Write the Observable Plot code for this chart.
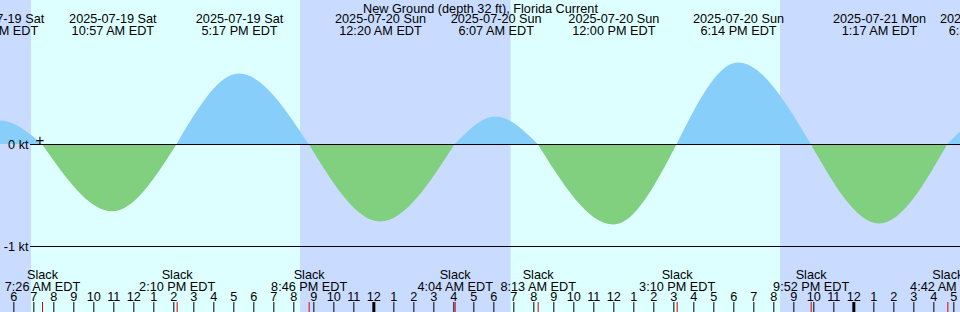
<!DOCTYPE html>
<html><head><meta charset="utf-8">
<script src="https://cdn.jsdelivr.net/npm/d3@7"></script>
<script src="https://cdn.jsdelivr.net/npm/@observablehq/plot@0.6"></script>
<style>html,body{margin:0;padding:0;overflow:hidden;background:#fff} svg{display:block}</style>
</head><body><div id="chart"></div>
<script>
const title = "New Ground (depth 32 ft), Florida Current";
const startTime = "2025-07-19 05:20";
const endTime = "2025-07-21 05:20";
const nightStarts = ["2025-07-19 05:20", "2025-07-19 20:20", "2025-07-20 20:20"];
const nightEnds = ["2025-07-19 06:53", "2025-07-20 06:52", "2025-07-21 05:20"];
const peakTimes = ["2025-07-19 05:20", "2025-07-19 10:57", "2025-07-19 17:17", "2025-07-20 00:20", "2025-07-20 06:07", "2025-07-20 12:00", "2025-07-20 18:14", "2025-07-21 01:17", "2025-07-21 06:38"];
const peakValues = [0.23, -0.66, 0.69, -0.76, 0.27, -0.79, 0.80, -0.78, 0.26];
const slackTimes = ["2025-07-19 07:26", "2025-07-19 14:10", "2025-07-19 20:46", "2025-07-20 04:04", "2025-07-20 08:13", "2025-07-20 15:10", "2025-07-20 21:52", "2025-07-21 04:42"];
const edgeSlackTimes = ["2025-07-19 03:14", "2025-07-21 08:45"];
const levelValues = [0, -1];
const levelLabels = ["0 kt", "-1 kt"];
const nowTime = "2025-07-19 07:18";

const dayColor = "#ddffff";
const nightColor = "#c9dcff";
const floodColor = "#87cefa";
const ebbColor = "#80d07f";

const parse = d3.utcParse("%Y-%m-%d %H:%M");
const fmtDate = d3.utcFormat("%Y-%m-%d %a");
const fmtTime = d => d3.utcFormat("%-I:%M %p")(d) + " EDT";
const fmtHour = d3.utcFormat("%-I");

const nights = nightStarts.map((s, i) => ({start: parse(s), end: parse(nightEnds[i])}));
const peaks = peakTimes.map((t, i) => ({t: parse(t), v: peakValues[i]}));
const slacks = slackTimes.map(parse);

// build half-cycle segments between slacks
const pts = [...slacks, ...edgeSlackTimes.map(parse)].map(t => ({t, v: 0, slack: true}))
  .concat(peaks.map(p => ({t: p.t, v: p.v, slack: false})))
  .sort((a, b) => a.t - b.t);
const areaData = [];
const segSign = [];
let seg = 0;
pts.forEach((p, i) => {
  if (p.slack) {
    if (i > 0) areaData.push({t: p.t, v: 0, seg});
    seg++;
    if (i < pts.length - 1) areaData.push({t: p.t, v: 0, seg});
  } else {
    areaData.push({t: p.t, v: p.v, seg});
    segSign[seg] = Math.sign(p.v);
  }
});

const hours = d3.utcHour.range(parse(startTime), parse(endTime));
const font = {fontFamily: "'Liberation Sans', Arial, sans-serif", fontSize: 12.7, fill: "#000"};

const chart = Plot.plot({
  width: 960, height: 312,
  marginTop: 0, marginRight: 0, marginBottom: 0, marginLeft: 0,
  style: {background: dayColor},
  x: {type: "utc", domain: [parse(startTime), parse(endTime)], range: [0, 960], axis: null},
  y: {domain: [-1, 0], range: [246, 144], axis: null},
  marks: [
    Plot.rect(nights, {x1: "start", x2: "end", fill: nightColor}),
    Plot.areaY(areaData, {x: "t", y: "v", z: "seg", fill: d => segSign[d.seg] > 0 ? floodColor : ebbColor, curve: "monotone-x"}),
    Plot.ruleY(levelValues, {insetLeft: 30, stroke: "#000", strokeWidth: 1}),
    Plot.text(levelValues, {y: d => d, text: (d, i) => levelLabels[i], frameAnchor: "left", textAnchor: "end", dx: 28, ...font}),
    Plot.text([parse(nowTime)], {x: d => d, y: () => 0, text: () => "+", dy: -4.5, ...font, fontSize: 15}),
    Plot.text([title], {frameAnchor: "top", lineAnchor: "top", dy: 3, text: d => d, ...font}),
    Plot.text(peaks, {x: "t", text: d => fmtDate(d.t) + "\n" + fmtTime(d.t), frameAnchor: "top", lineAnchor: "top", dy: 14, lineHeight: 0.945, ...font}),
    Plot.text(slacks, {x: d => d, text: d => "Slack\n" + fmtTime(d), frameAnchor: "bottom", lineAnchor: "bottom", dy: -22, lineHeight: 0.945, ...font}),
    Plot.text(hours, {x: d => d, text: d => fmtHour(d), frameAnchor: "bottom", lineAnchor: "bottom", dy: -12, ...font}),
    Plot.ruleX(hours, {x: d => d, insetTop: 302, stroke: "#000", strokeWidth: d => d.getUTCHours() === 0 ? 3 : 1}),
    Plot.ruleX(slacks, {x: d => d, insetTop: 302, stroke: "#e00000", strokeWidth: 1})
  ]
});
document.getElementById("chart").appendChild(chart);
</script>
</body></html>
